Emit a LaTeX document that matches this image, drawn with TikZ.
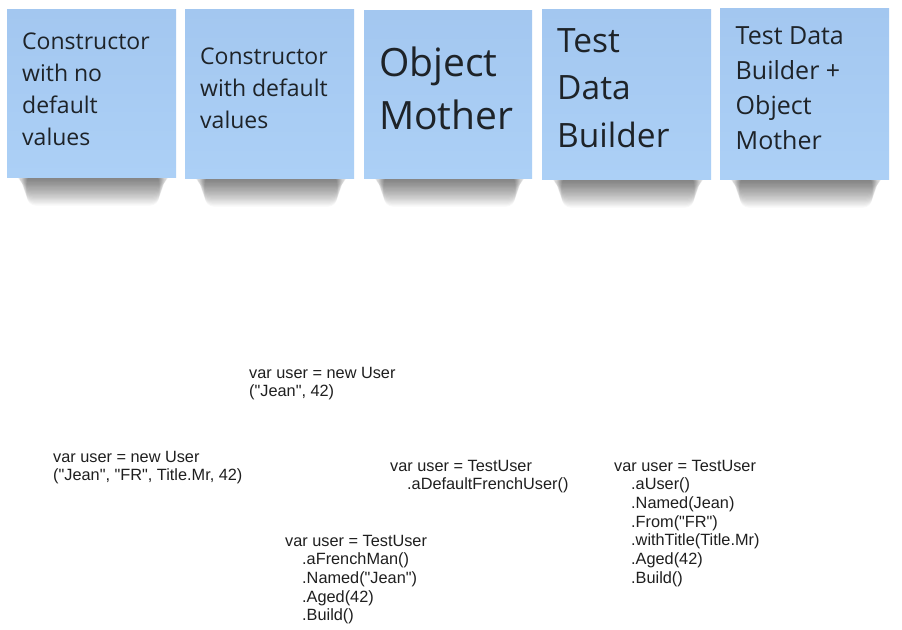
\documentclass[tikz,border=0pt]{standalone}
\usepackage{fontspec}
\setmainfont{Liberation Sans}[Ligatures=TeXOff]
\newfontfamily\notefont{Open Sans}
\definecolor{notetop}{HTML}{A3C7F0}
\definecolor{notebot}{HTML}{ACD0F6}
\definecolor{notetext}{HTML}{1E2328}
\tikzset{
  sticky/.style={draw=none, top color=notetop, bottom color=notebot, inner sep=0pt,
    anchor=north west, minimum width=168pt, minimum height=168pt},
  notetxt/.style={anchor=base west, inner sep=0pt, text=notetext, font=\notefont},
  codetxt/.style={anchor=base west, inner sep=0pt, text=black!88,
    font=\fontsize{16.3}{18.7}\selectfont},
}
\newcommand\noteshadow[3]{%
  \foreach \i in {1,...,22}{%
    \fill[black,opacity=0.027,rounded corners={min(\i*1.1,9)}]
      ({#1+10+\i*0.45},{#3-3}) rectangle ({#2-7-\i*0.45},{#3+\i*1.3});
  }%
}
\newcommand\ttab[1]{\begin{tabular}[t]{@{}l@{}}#1\end{tabular}}
\begin{document}
\begin{tikzpicture}[x=1pt,y=-1pt]
  \fill[white] (0,0) rectangle (902,629);
  \useasboundingbox (0,0) rectangle (902,629);

  % shadows
  \noteshadow{7}{176}{177}
  \noteshadow{185}{354}{178}
  \noteshadow{364}{532}{178}
  \noteshadow{542}{711}{179}
  \noteshadow{720}{889}{179}

  % sticky notes
  \node[sticky, minimum width=169pt, minimum height=168pt] (n1) at (7,9) {};
  \node[sticky, minimum width=169pt, minimum height=169pt] (n2) at (185,9) {};
  \node[sticky, minimum width=168pt, minimum height=168pt] (n3) at (364,10) {};
  \node[sticky, minimum width=169pt, minimum height=170pt] (n4) at (542,9) {};
  \node[sticky, minimum width=169pt, minimum height=171pt] (n5) at (720,8) {};

  % note texts
  \node[notetxt, font=\notefont\fontsize{23}{32}\selectfont] (t1) at (22,49)
    {\ttab{Constructor\\with no\\default\\values}};
  \node[notetxt, font=\notefont\fontsize{23}{32}\selectfont] (t2) at (200,64.5)
    {\ttab{Constructor\\with default\\values}};
  \node[notetxt, font=\notefont\fontsize{39}{53}\selectfont] (t3) at (379,76)
    {\ttab{Object\\Mother}};
  \node[notetxt, font=\notefont\fontsize{33.5}{47.5}\selectfont] (t4) at (557,52)
    {\ttab{Test\\Data\\Builder}};
  \node[notetxt, font=\notefont\fontsize{25}{35}\selectfont] (t5) at (735.5,44.3)
    {\ttab{Test Data\\Builder +\\Object\\Mother}};

  % code fragments
  \node[codetxt] (cA) at (249,378)
    {\ttab{var user = new User\\("Jean", 42)}};
  \node[codetxt] (cB) at (53,462)
    {\ttab{var user = new User\\("Jean", "FR", Title.Mr, 42)}};
  \node[codetxt] (cC) at (390,471)
    {\ttab{var user = TestUser\\\hspace*{17pt}.aDefaultFrenchUser()}};
  \node[codetxt] (cD) at (614,471)
    {\ttab{var user = TestUser\\
      \hspace*{17pt}.aUser()\\
      \hspace*{17pt}.Named(Jean)\\
      \hspace*{17pt}.From("FR")\\
      \hspace*{17pt}.withTitle(Title.Mr)\\
      \hspace*{17pt}.Aged(42)\\
      \hspace*{17pt}.Build()}};
  \node[codetxt] (cE) at (285,546)
    {\ttab{var user = TestUser\\
      \hspace*{17pt}.aFrenchMan()\\
      \hspace*{17pt}.Named("Jean")\\
      \hspace*{17pt}.Aged(42)\\
      \hspace*{17pt}.Build()}};
\end{tikzpicture}
\end{document}
